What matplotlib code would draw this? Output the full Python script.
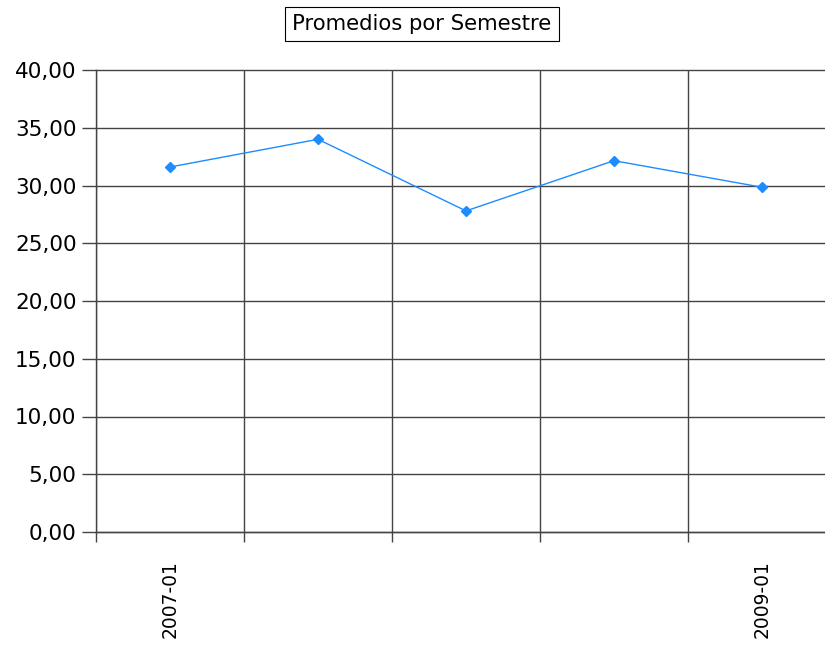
import matplotlib
matplotlib.use("Agg")
import matplotlib.pyplot as plt
import numpy as np

categories = ["2007-01", "2007-02", "2008-01", "2008-02", "2009-01"]
values = [31.6, 34.0, 27.8, 32.15, 29.85]
shown_labels = ["2007-01", "", "", "", "2009-01"]
yticks = [0, 5, 10, 15, 20, 25, 30, 35, 40]
title = "Promedios por Semestre"

W, H = 825, 646
fig = plt.figure(figsize=(W / 100, H / 100), dpi=100)
ax = fig.add_axes([96 / W, (H - 532) / H, (836 - 96) / W, (532 - 70) / H])

x = np.arange(len(categories))
ax.plot(x, values, color="#1E8CFF", lw=1.0, marker="D", ms=5.5,
        markeredgecolor="#1E8CFF", markerfacecolor="#1E8CFF", zorder=3)

ax.set_xlim(-0.5, len(categories) - 0.5)
ax.set_ylim(0, 40)
ax.set_yticks(yticks)
ax.set_yticklabels([f"{v:.2f}".replace(".", ",") for v in yticks],
                   fontsize=15.5, family="DejaVu Sans")
ax.set_xticks(x)
ax.set_xticklabels(shown_labels, rotation=90, fontsize=13.5, family="DejaVu Sans",
                   va="top", ha="center")
ax.set_xticks(np.arange(-0.5, len(categories) + 0.5, 1), minor=True)

ax.tick_params(axis="x", which="major", length=0, pad=20)
ax.tick_params(axis="x", which="minor", length=7, width=1, color="#444444", direction="out")
ax.tick_params(axis="y", which="major", length=10, width=1, color="#444444", direction="out", pad=4)

ax.grid(False)
ax.xaxis.grid(True, which="minor", color="#444444", lw=1)
ax.yaxis.grid(True, which="major", color="#444444", lw=1)
for g in ax.yaxis.get_gridlines():
    g.set_clip_on(False)
ax.set_axisbelow(True)

for s in ["top", "right"]:
    ax.spines[s].set_visible(False)
for s in ["left", "bottom"]:
    ax.spines[s].set_color("#444444")
    ax.spines[s].set_linewidth(1)

fig.text(422 / W, 1 - 24 / H, title, ha="center", va="center", fontsize=15.2,
         family="DejaVu Sans",
         bbox=dict(boxstyle="square,pad=0.35", facecolor="white", edgecolor="black", lw=0.8))

fig.savefig("out.png", dpi=100)
